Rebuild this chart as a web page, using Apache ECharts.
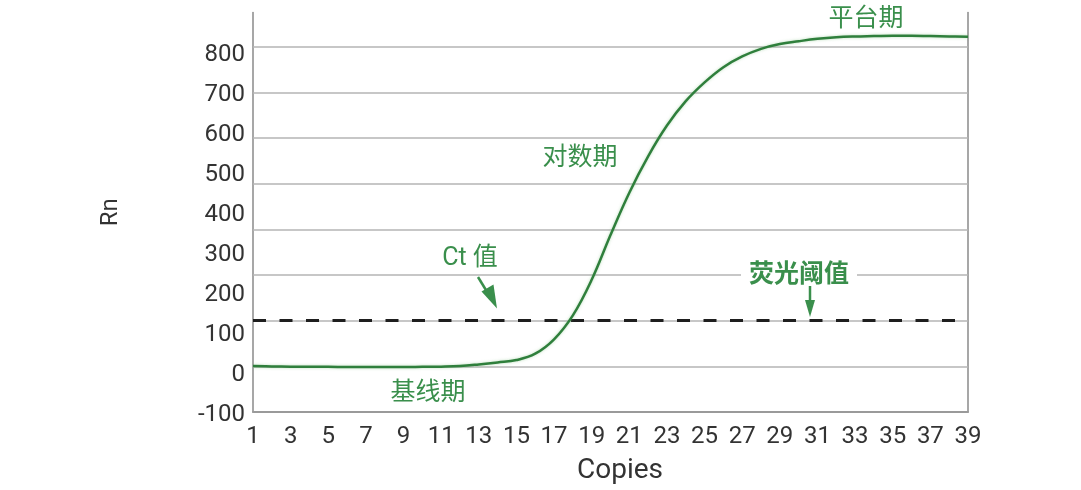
<!DOCTYPE html>
<html>
<head>
<meta charset="utf-8">
<script src="https://cdn.jsdelivr.net/npm/echarts@6/dist/echarts.min.js"></script>
<style>
html,body{margin:0;padding:0;background:#fff;}
#chart{width:1081px;height:490px;}
</style>
</head>
<body>
<div id="chart"></div>
<script>
// ---- data ----
const cycles = [1,2,3,4,5,6,7,8,9,10,11,12,13,14,15,16,17,18,19,20,21,22,23,24,25,26,27,28,29,30,31,32,33,34,35,36,37,38,39];
const rnValues = [15,14,13.5,13,13,12.5,12.5,12.5,12.5,13,13.5,15,19,24,30,46,82,142,231,343,449,540,617,678,725,763,790,809,821,828,834,838,840,841,842,842,841,840,839];
const threshold = 130;
const yMin = -100, yMax = 900, yStep = 100;
// horizontal grid rules of the original figure (in Rn units, not aligned with the tick labels)
const gridLevels = [13.75, 128.125, 242.5, 356.875, 471.25, 585.625, 700, 814.375];
const annotations = [
  {text: '平台期', x: 866, y: 20, bold: false},
  {text: '对数期', x: 580, y: 159, bold: false},
  {text: 'Ct 值', x: 470, y: 259, bold: false},
  {text: '基线期', x: 428, y: 394, bold: false},
  {text: '荧光阈值', x: 799, y: 276, bold: true}
];

const GREEN_TEXT = '#3a8f4c';
const GREEN_LINE = '#2f7f3c';
const FONT = 'Roboto, "Noto Sans CJK SC", sans-serif';

const chart = echarts.init(document.getElementById('chart'), null, {renderer: 'canvas'});

const graphics = annotations.map(a => ({
  type: 'text',
  z: 100,
  style: {
    x: a.x, y: a.y,
    text: a.text,
    fill: GREEN_TEXT,
    font: (a.bold ? 'bold ' : '') + '25px ' + FONT,
    align: 'center',
    verticalAlign: 'middle',
    backgroundColor: a.bold ? '#fff' : null,
    padding: a.bold ? [0, 8] : 0
  }
}));
// arrows
graphics.push(
  {type: 'line', z: 100, shape: {x1: 478, y1: 277, x2: 489, y2: 295}, style: {stroke: GREEN_TEXT, lineWidth: 2.5}},
  {type: 'polygon', z: 100, shape: {points: [[481.5, 291.5], [493.5, 284.5], [497, 308.5]]}, style: {fill: GREEN_TEXT}},
  {type: 'line', z: 100, shape: {x1: 810, y1: 286, x2: 810, y2: 302}, style: {stroke: GREEN_TEXT, lineWidth: 2.5}},
  {type: 'polygon', z: 100, shape: {points: [[805, 300], [815, 300], [810, 317]]}, style: {fill: GREEN_TEXT}}
);

chart.setOption({
  animation: false,
  backgroundColor: '#fff',
  grid: {left: 253, right: 113, top: 12.5, bottom: 77.5, containLabel: false},
  xAxis: {
    type: 'category',
    data: cycles,
    boundaryGap: false,
    axisLine: {show: true, onZero: false, lineStyle: {color: '#9a9a9a', width: 2}},
    axisTick: {show: false},
    splitLine: {show: false},
    axisLabel: {interval: 1, fontSize: 24, color: '#333', fontFamily: FONT, margin: 13},
    name: 'Copies',
    nameLocation: 'middle',
    nameGap: 45,
    nameTextStyle: {fontSize: 28, color: '#333', fontFamily: FONT, padding: [0, 0, 0, 19]}
  },
  yAxis: [
    {
      type: 'value',
      min: yMin, max: yMax, interval: yStep,
      position: 'left',
      axisLine: {show: true, onZero: false, lineStyle: {color: '#8a8a8a', width: 1.5}},
      axisTick: {show: false},
      splitLine: {show: false},
      axisLabel: {
        margin: 8,
        formatter: v => (v >= yMax ? '' : '{t|' + v + '}'),
        rich: {
          t: {fontSize: 24, color: '#333', fontFamily: FONT, padding: [6, 0, 0, 0]}
        }
      },
      name: 'Rn',
      nameLocation: 'middle',
      nameGap: 130,
      nameRotate: 90,
      nameTextStyle: {fontSize: 24, color: '#333', fontFamily: FONT}
    },
    {
      type: 'value',
      min: 0, max: 1,
      position: 'right',
      axisLine: {show: true, onZero: false, lineStyle: {color: '#8a8a8a', width: 1.5}},
      axisTick: {show: false},
      axisLabel: {show: false},
      splitLine: {show: false}
    }
  ],
  series: [
    {
      type: 'line',
      data: [],
      yAxisIndex: 0,
      z: 1,
      markLine: {
        silent: true,
        symbol: ['none', 'none'],
        label: {show: false},
        lineStyle: {color: '#b4b4b4', width: 1.5, type: 'solid'},
        data: gridLevels.map(v => ({yAxis: v}))
      }
    },
    {
      type: 'line',
      data: rnValues,
      yAxisIndex: 0,
      smooth: 0.4,
      showSymbol: false,
      symbol: 'none',
      z: 10,
      lineStyle: {color: GREEN_LINE, width: 2.5, shadowColor: 'rgba(120,190,120,0.5)', shadowBlur: 3},
      markLine: {
        silent: true,
        symbol: ['none', 'none'],
        label: {show: false},
        z: 5,
        lineStyle: {color: '#1e1e1e', width: 3, type: [13, 13.5]},
        data: [{yAxis: threshold}]
      }
    }
  ],
  graphic: graphics
});
</script>
</body>
</html>
